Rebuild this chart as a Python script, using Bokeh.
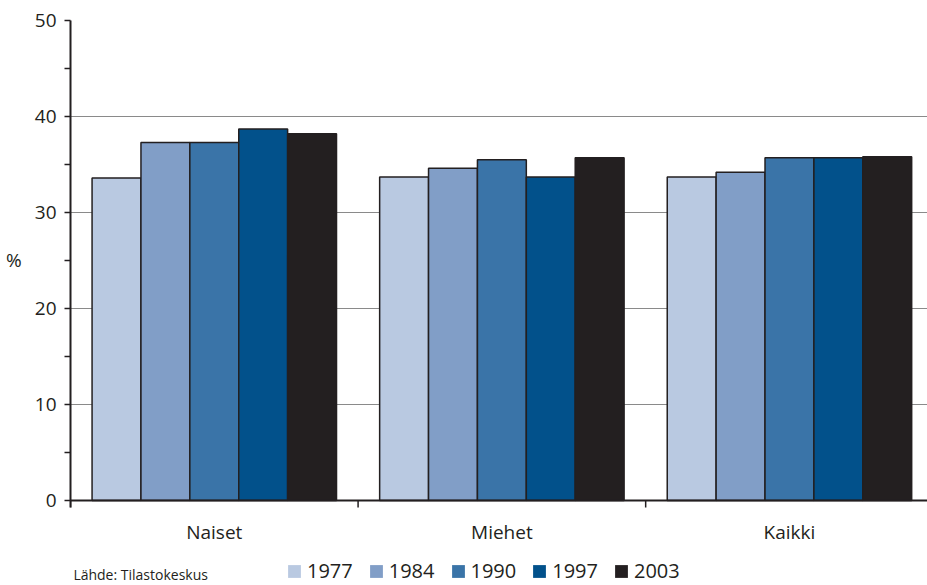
import numpy as np
from bokeh.plotting import figure
from bokeh.models import Range1d, FixedTicker, Legend, LegendItem, Label, Span
from bokeh.core.properties import value
from bokeh.embed import file_html
from bokeh.resources import INLINE

# ---- data ----
categories = ["Naiset", "Miehet", "Kaikki"]
years = ["1977", "1984", "1990", "1997", "2003"]
v1977 = [33.6, 33.7, 33.7]
v1984 = [37.3, 34.6, 34.2]
v1990 = [37.3, 35.5, 35.7]
v1997 = [38.7, 33.7, 35.7]
v2003 = [38.2, 35.7, 35.8]
series = [v1977, v1984, v1990, v1997, v2003]
colors = ["#b9c9e1", "#819ec7", "#3a74a8", "#02518b", "#231f20"]
y_ticks = [0, 10, 20, 30, 40, 50]
y_minor = [5, 15, 25, 35, 45]
source_text = "Lähde: Tilastokeskus"
y_unit = "%"

FONT = "Open Sans"
DARK = "#231f20"
PX = 480 / 50.0          # pixels per data unit on the y axis
Y_MIN = -85 / PX          # frame extends below zero to hold labels and legend

p = figure(frame_width=857, frame_height=565,
           x_range=Range1d(0, 2.98), y_range=Range1d(Y_MIN, 50),
           output_backend="svg", toolbar_location=None,
           x_axis_location=None,
           min_border_left=70, min_border_right=0,
           min_border_top=20, min_border_bottom=0)
p.outline_line_color = None
p.background_fill_color = "white"
p.border_fill_color = "white"

centers = np.arange(len(categories)) + 0.5
bounds_x = np.arange(len(categories) + 1)
bw = 0.17
items = []
for i, (yr, vals, col) in enumerate(zip(years, series, colors)):
    xs = centers + (i - 2) * bw
    p.vbar(x=xs, top=vals, bottom=0, width=bw, fill_color=col,
           line_color=DARK, line_width=1.5)
    # zero-height proxy bars give legend keys without the dark outline
    key = p.vbar(x=xs, top=0, bottom=0, width=bw, fill_color=col, line_color=None)
    items.append(LegendItem(label=yr, renderers=[key]))

# y axis
yax = p.yaxis[0]
yax.ticker = FixedTicker(ticks=y_ticks, minor_ticks=y_minor)
yax.bounds = (-0.75, 50)
yax.major_tick_in = 0
yax.major_tick_out = 6
yax.minor_tick_in = 0
yax.minor_tick_out = 6
yax.major_tick_line_color = DARK
yax.minor_tick_line_color = DARK
yax.major_tick_line_width = 1.5
yax.minor_tick_line_width = 1.5
yax.axis_line_color = DARK
yax.axis_line_width = 2
yax.major_label_text_font = FONT
yax.major_label_text_font_size = "19px"
yax.major_label_text_color = DARK
yax.major_label_standoff = 8
yax.axis_label = y_unit + "\n \n \n "
yax.axis_label_text_font = FONT
yax.axis_label_text_font_size = "19px"
yax.axis_label_text_font_style = "normal"
yax.axis_label_text_color = DARK
yax.axis_label_text_line_height = 1.1
yax.axis_label_standoff = 10
try:
    yax.axis_label_orientation = "horizontal"
except AttributeError:
    pass

for g in p.grid:
    if g.dimension == 0:
        g.visible = False
p.ygrid.grid_line_color = "#8a8a8a"
p.ygrid.grid_line_width = 1

# x axis line, category separators and labels drawn inside the extended frame
p.add_layout(Span(location=0, dimension="width", line_color=DARK, line_width=2))
p.segment(x0=bounds_x, y0=0, x1=bounds_x, y1=-7 / PX, line_color=DARK, line_width=1.5)
p.text(x=centers, y=-31 / PX, text=categories, text_align="center",
       text_baseline="middle", text_font=value(FONT), text_font_size="19px",
       text_color=DARK)

legend = Legend(items=items, orientation="horizontal", location=(216, 1),
                glyph_width=16, glyph_height=16, label_standoff=5, spacing=15,
                padding=0, margin=0, border_line_color=None,
                background_fill_alpha=0,
                label_text_font=FONT, label_text_font_size="20px",
                label_text_color=DARK)
p.add_layout(legend, "center")

p.add_layout(Label(x=0.01, y=-74 / PX, text=source_text, text_align="left",
                   text_baseline="alphabetic", text_font=FONT,
                   text_font_size="14px", text_color=DARK))

open("out.html", "w").write(file_html(p, INLINE))
